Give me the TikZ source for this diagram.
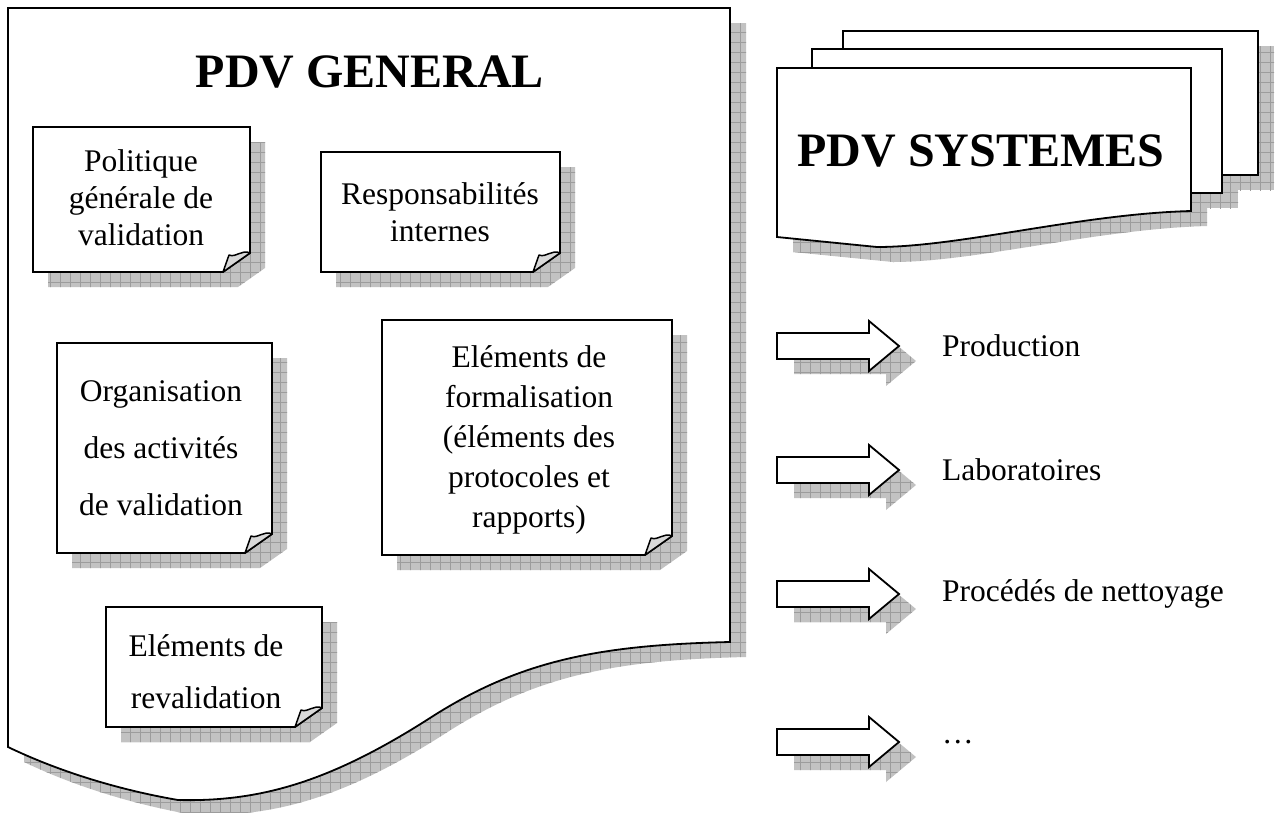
\documentclass[tikz,border=0pt]{standalone}
\usepackage{fontspec}
\setmainfont{Liberation Serif}
\usetikzlibrary{patterns,positioning}

% grid that is laid over the grey shadows
\pgfdeclarepatternformonly{shadowgrid}{\pgfqpoint{-0.5pt}{-0.5pt}}{\pgfqpoint{10.5pt}{10.5pt}}{\pgfqpoint{10pt}{10pt}}{%
  \pgfsetlinewidth{0.9pt}%
  \pgfpathmoveto{\pgfqpoint{0pt}{0pt}}\pgfpathlineto{\pgfqpoint{10pt}{0pt}}%
  \pgfpathmoveto{\pgfqpoint{0pt}{0pt}}\pgfpathlineto{\pgfqpoint{0pt}{10pt}}%
  \pgfusepath{stroke}}

\tikzset{
  sheet/.style={draw=black,line width=1.8pt,fill=white},
  shade/.style={fill=gray!48,postaction={pattern=shadowgrid,pattern color=gray!78}},
  fold/.style={draw=black,line width=1.5pt,fill=gray!30,line join=round},
  notetext/.style={align=center,inner sep=0pt,font=\fontsize{31.5}{37}\selectfont},
  itemtext/.style={anchor=west,inner sep=0pt,font=\fontsize{31.5}{37}\selectfont},
  titletext/.style={inner sep=0pt,font=\fontsize{48}{56}\selectfont\bfseries}
}

% note with curled corner: #1,#2 top left, #3,#4 bottom right
\newcommand{\notesheet}[4]{%
  \fill[shade,shift={(15,15)}] (#1,#2) -- (#3,#2) -- (#3,#4-19) -- (#3-27,#4) -- (#1,#4) -- cycle;
  \draw[sheet] (#1,#2) -- (#3,#2) -- (#3,#4-19) -- (#3-27,#4) -- (#1,#4) -- cycle;
  \draw[fold] (#3,#4-19) .. controls (#3-8,#4-23) and (#3-14,#4-14) .. (#3-21,#4-17) -- (#3-27,#4) -- cycle;
}

\begin{document}
\begin{tikzpicture}[x=1pt,y=-1pt]
    \useasboundingbox (0,0) rectangle (1277,812);

    % PDV general
    \fill[shade,shift={(16,15)}] (8,8) -- (730,8) -- (730,642)
        .. controls (600,645) and (520,660) .. (430,718)
        .. controls (330,782) and (260,802) .. (178,800)
        .. controls (120,790) and (60,772) .. (8,747) -- cycle;
    \draw[sheet] (8,8) -- (730,8) -- (730,642)
        .. controls (600,645) and (520,660) .. (430,718)
        .. controls (330,782) and (260,802) .. (178,800)
        .. controls (120,790) and (60,772) .. (8,747) -- cycle;
    \node[titletext] (general) at (370,72) {PDV GENERAL};

    \notesheet{33}{127}{250}{272}
    \notesheet{321}{152}{560}{272}
    \notesheet{57}{343}{272}{553}
    \notesheet{382}{320}{672}{555}
    \notesheet{106}{607}{322}{727}

    \node[notetext] (politique) at (141,198) {Politique\\générale de\\validation};
    \node[notetext] (respons) at (440,212) {Responsabilités\\internes};
    \node[notetext,font=\fontsize{31.5}{57}\selectfont] (organis) at (161,448) {Organisation\\des activités\\de validation};
    \node[notetext,font=\fontsize{31.5}{40}\selectfont] (formal) at (529,440) {Eléments de\\formalisation\\(éléments des\\protocoles et\\rapports)};
    \node[notetext,font=\fontsize{31.5}{52}\selectfont] (revalid) at (206,672) {Eléments de\\revalidation};

    % PDV systemes
    \begin{scope}[shift={(16,15)}]
        \fill[shade] (843,31) rectangle (1258,175);
        \fill[shade] (812,49) rectangle (1222,193);
        \fill[shade] (777,68) -- (1191,68) -- (1191,211)
            .. controls (1080,214) and (960,247) .. (877,247) -- (777,237) -- cycle;
    \end{scope}
    \draw[sheet] (843,31) rectangle (1258,175);
    \draw[sheet] (812,49) rectangle (1222,193);
    \draw[sheet] (777,68) -- (1191,68) -- (1191,211)
        .. controls (1080,214) and (960,247) .. (877,247) -- (777,237) -- cycle;
    \node[titletext] (systemes) at (981,151) {PDV SYSTEMES};

    % the systems
    \foreach \yy/\nm/\txt in {346/prod/Production,470/labo/Laboratoires,594/nett/Procédés de nettoyage,742/etc/…}{
        \fill[shade,shift={(17,15)}] (777,\yy-13) -- (869,\yy-13) -- (869,\yy-25) -- (899,\yy) -- (869,\yy+25) -- (869,\yy+13) -- (777,\yy+13) -- cycle;
        \draw[sheet] (777,\yy-13) -- (869,\yy-13) -- (869,\yy-25) -- (899,\yy) -- (869,\yy+25) -- (869,\yy+13) -- (777,\yy+13) -- cycle;
        \node[itemtext] (\nm) at (942,\yy) {\txt};
    }
\end{tikzpicture}
\end{document}
